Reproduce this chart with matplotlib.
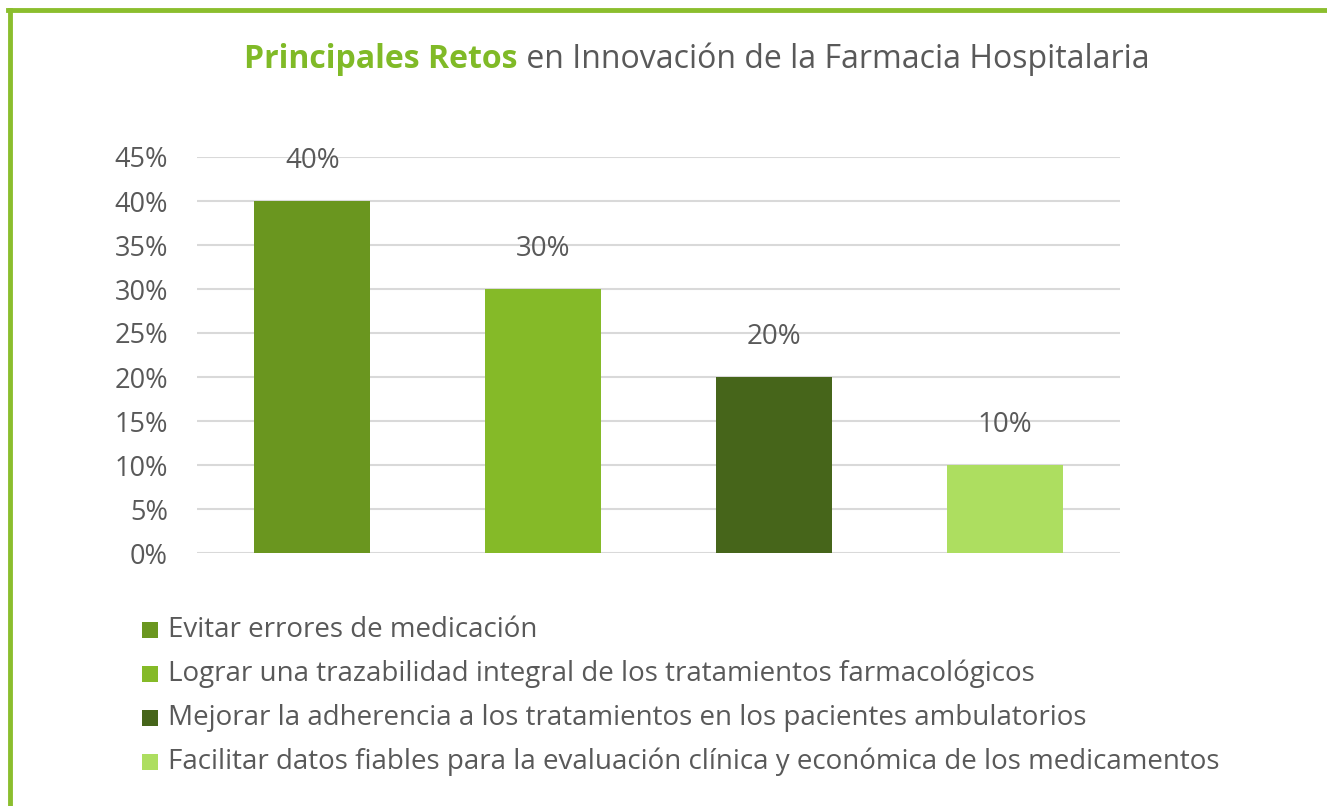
import matplotlib
matplotlib.use("Agg")
import matplotlib.pyplot as plt
from matplotlib.lines import Line2D
from matplotlib.patches import Rectangle
from matplotlib.ticker import FuncFormatter

# data
categories = [
    "Evitar errores de medicación",
    "Lograr una trazabilidad integral de los tratamientos farmacológicos",
    "Mejorar la adherencia a los tratamientos en los pacientes ambulatorios",
    "Facilitar datos fiables para la evaluación clínica y económica de los medicamentos",
]
values = [40, 30, 20, 10]
bar_colors = ["#6A961F", "#85BA28", "#46651A", "#ADDE60"]
yticks = [0, 5, 10, 15, 20, 25, 30, 35, 40, 45]

text_color = "#595959"
green = "#80BA27"
plt.rcParams["font.family"] = ["Open Sans", "DejaVu Sans"]

W, H = 1327, 806
fig = plt.figure(figsize=(W / 100, H / 100), dpi=100)

# plot area in pixel coords
left, right, top, bottom = 197, 1120, 157, 553
ax = fig.add_axes([left / W, 1 - bottom / H, (right - left) / W, (bottom - top) / H])

xs = range(len(values))
bars = ax.bar(xs, values, width=0.503, color=bar_colors, zorder=3)
for b, v in zip(bars, values):
    ax.annotate(f"{v}%", (b.get_x() + b.get_width() / 2, v), xytext=(0, 29),
                textcoords="offset points", ha="center", va="center",
                fontsize=20, color=text_color)

ax.set_xlim(-0.5, len(values) - 0.5)
ax.set_ylim(0, 45)
ax.set_yticks(yticks)
ax.yaxis.set_major_formatter(FuncFormatter(lambda v, p: f"{v:.0f}%"))
ax.set_xticks([])
ax.tick_params(axis="y", length=0, labelsize=19.5, labelcolor=text_color, pad=21)
ax.grid(axis="y", color="#D9D9D9", linewidth=1.5, zorder=0)
for s in ax.spines.values():
    s.set_visible(False)

# legend drawn as squares + text
leg_y = [630, 674, 718, 762]
for c, lab, y in zip(bar_colors, categories, leg_y):
    fig.patches.append(Rectangle((142 / W, 1 - (y + 8) / H), 16 / W, 16 / H,
                                 transform=fig.transFigure, facecolor=c, edgecolor="none"))
    fig.text(168 / W, 1 - y / H, lab, fontsize=20, color=text_color, va="center", ha="left")

# two-colour title, centred
fig.canvas.draw()
r = fig.canvas.get_renderer()
t1 = fig.text(0, 1 - 59 / H, "Principales Retos", fontsize=23, fontweight="bold",
              color=green, va="center", ha="left")
t2 = fig.text(0, 1 - 59 / H, " en Innovación de la Farmacia Hospitalaria", fontsize=23,
              color=text_color, va="center", ha="left")
w1 = t1.get_window_extent(r).width
w2 = t2.get_window_extent(r).width
x0 = 697 - (w1 + w2) / 2
t1.set_x(x0 / W)
t2.set_x((x0 + w1) / W)

# green frame (top and left edges)
fig.add_artist(Line2D([8 / W, 1], [1 - 10 / H, 1 - 10 / H], color="#8BBE2E", linewidth=3.5,
                      transform=fig.transFigure))
fig.add_artist(Line2D([10 / W, 10 / W], [1 - 10 / H, 0], color="#8BBE2E", linewidth=3.5,
                      transform=fig.transFigure))

fig.savefig("out.png", dpi=100)
